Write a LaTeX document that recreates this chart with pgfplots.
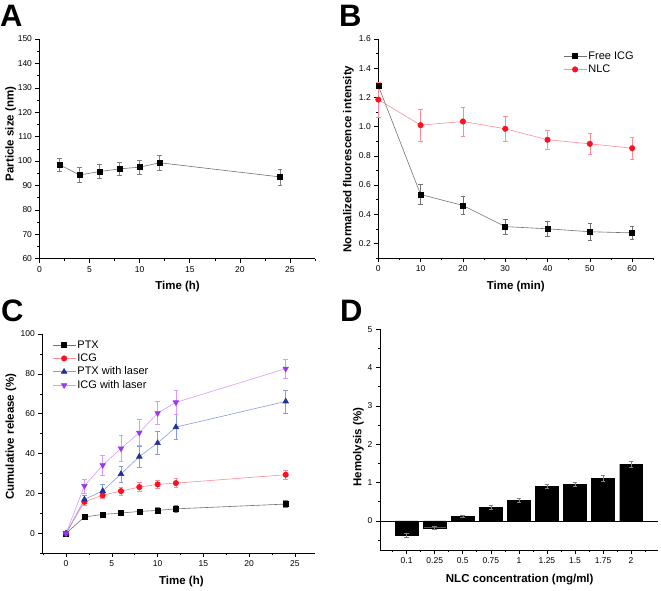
\documentclass[border=0pt]{standalone}
\usepackage{pgfplots}
\pgfplotsset{compat=1.18}
\usepackage{fontspec}
\setmainfont{Liberation Sans}
\definecolor{cred}{HTML}{FF1020}
\definecolor{cpink}{HTML}{FF8C9A}
\definecolor{cnavy}{HTML}{22309A}
\definecolor{cblue}{HTML}{8A9AE0}
\definecolor{cpurple}{HTML}{9C36F0}
\definecolor{clpurple}{HTML}{D69CFF}
\pgfplotsset{
  panel/.style={
    scale only axis, axis lines=left, axis line style={-, line width=0.8pt},
    tick align=outside, major tick length=4pt, minor tick length=2pt,
    tick style={black, line width=0.6pt},
    tick label style={font=\fontsize{8.5}{10}\selectfont},
    label style={font=\bfseries\fontsize{11.5}{13}\selectfont},
    /pgf/number format/assume math mode=true,
    clip=false,
    legend style={draw=none, fill=none, anchor=north west,
      font=\fontsize{11}{13}\selectfont, row sep=1pt, inner sep=0pt,
      nodes={inner sep=1.5pt}},
    legend cell align=left,
    legend image code/.code={\draw[mark repeat=2, mark phase=2] plot coordinates {(0pt,0pt) (11.5pt,0pt) (23pt,0pt)};},
  },
  ebar/.style={error bars/.cd, y dir=both, y explicit,
    error bar style={#1, line width=0.5pt},
    error mark options={rotate=90, #1, mark size=2.3pt, line width=0.5pt}},
}
\begin{document}
\begin{tikzpicture}
\path[use as bounding box] (0pt,0pt) rectangle (661pt,590pt);
% Panel letters
\node[anchor=base west, inner sep=0pt, font=\bfseries\fontsize{31}{31}\selectfont] at (0pt,563pt) {A};
\node[anchor=base west, inner sep=0pt, font=\bfseries\fontsize{31}{31}\selectfont] at (339pt,563pt) {B};
\node[anchor=base west, inner sep=0pt, font=\bfseries\fontsize{31}{31}\selectfont] at (1pt,268.3pt) {C};
\node[anchor=base west, inner sep=0pt, font=\bfseries\fontsize{31}{31}\selectfont] at (340pt,268.3pt) {D};

% ---------------- A ----------------
\begin{axis}[panel, at={(39.5pt,331.3pt)}, anchor=south west,
  width=275.5pt, height=219.7pt,
  xmin=0, xmax=27.5, ymin=60, ymax=150,
  xtick={0,5,...,25}, minor xtick={2.5,7.5,...,27.5},
  ytick={60,70,...,150}, minor ytick={65,75,...,145},
  xlabel={Time (h)}, ylabel={Particle size (nm)},
  xlabel style={at={(axis description cs:0.501,-0.127)}, anchor=center},
  ylabel style={at={(axis description cs:-0.1045,0.5676)}, anchor=center},
]
\addplot[color=gray!90!black, line width=0.6pt, mark=square*, mark size=2.5pt,
  mark options={black, solid}, ebar=gray]
coordinates {(2,98.5)+-(0,2.5) (4,94.3)+-(0,3.1) (6,95.7)+-(0,2.8) (8,96.8)+-(0,2.8)
 (10,97.5)+-(0,2.9) (12,99.3)+-(0,3.0) (24,93.5)+-(0,3.3)};
\end{axis}

% ---------------- B ----------------
\begin{axis}[panel, at={(378.3pt,332pt)}, anchor=south west,
  width=275pt, height=219pt,
  xmin=0, xmax=65, ymin=0.1, ymax=1.6,
  xtick={0,10,...,60}, minor xtick={5,15,...,65},
  ytick={0.2,0.4,0.6,0.8,1.0,1.2,1.4,1.6}, minor ytick={0.1,0.3,0.5,0.7,0.9,1.1,1.3,1.5},
  yticklabel style={/pgf/number format/.cd, fixed, fixed zerofill, precision=1},
  xlabel={Time (min)}, ylabel={Normalized fluorescence intensity},
  xlabel style={at={(axis description cs:0.5,-0.131)}, anchor=center},
  ylabel style={at={(axis description cs:-0.109,0.452)}, anchor=center},
  legend style={at={(axis description cs:0.672,0.95)}},
]
\addplot[color=gray!90!black, line width=0.6pt, mark=square*, mark size=2.5pt,
  mark options={black, solid}, ebar=gray!90!black]
coordinates {(0,1.28)+-(0,0.02) (10,0.535)+-(0,0.07) (20,0.46)+-(0,0.063) (30,0.315)+-(0,0.05)
 (40,0.30)+-(0,0.05) (50,0.28)+-(0,0.055) (60,0.272)+-(0,0.045)};
\addlegendentry{Free ICG}
\addplot[color=cpink, line width=0.6pt, mark=*, mark size=2.7pt,
  mark options={cred, fill=cred, solid}, ebar=cpink]
coordinates {(0,1.185)+-(0,0.12) (10,1.01)+-(0,0.11) (20,1.035)+-(0,0.1) (30,0.985)+-(0,0.085)
 (40,0.91)+-(0,0.065) (50,0.882)+-(0,0.073) (60,0.852)+-(0,0.073)};
\addlegendentry{NLC}
\end{axis}

% ---------------- C ----------------
\begin{axis}[panel, at={(42.3pt,36.7pt)}, anchor=south west,
  width=272.7pt, height=219.3pt,
  xmin=-2.6, xmax=27.2, ymin=-10, ymax=100,
  xtick={0,5,...,25}, minor xtick={-2.5,2.5,...,27.5},
  ytick={0,20,...,100}, minor ytick={-10,10,30,50,70,90},
  xlabel={Time (h)}, ylabel={Cumulative release (\%)},
  xlabel style={at={(axis description cs:0.51,-0.1295)}, anchor=center},
  ylabel style={at={(axis description cs:-0.1148,0.532)}, anchor=center},
  legend style={at={(axis description cs:0.036,0.977)}},
]
\addplot[color=gray!90!black, line width=0.6pt, mark=square*, mark size=2.5pt,
  mark options={black, solid}, ebar=gray]
coordinates {(0,0)+-(0,0.5) (2,8.2)+-(0,1.2) (4,9.5)+-(0,1.2) (6,10.2)+-(0,1.2) (8,11)+-(0,1.3)
 (10,11.5)+-(0,1.6) (12,12.3)+-(0,1.8) (24,14.7)+-(0,1.8)};
\addlegendentry{PTX}
\addplot[color=cpink, line width=0.6pt, mark=*, mark size=2.7pt,
  mark options={cred, fill=cred, solid}, ebar=cpink]
coordinates {(0,0)+-(0,0.5) (2,15.8)+-(0,1.5) (4,19.2)+-(0,1.8) (6,21.2)+-(0,2) (8,23.2)+-(0,2.2)
 (10,24.6)+-(0,2.2) (12,25.2)+-(0,2.3) (24,29.4)+-(0,2.2)};
\addlegendentry{ICG}
\addplot[color=cblue, line width=0.6pt, mark=triangle*, mark size=3.2pt,
  mark options={cnavy, fill=cnavy, solid}, ebar=cblue]
coordinates {(0,0)+-(0,0.5) (2,17)+-(0,2) (4,21.3)+-(0,3.4) (6,29.8)+-(0,4.1) (8,38.5)+-(0,5.4)
 (10,45.3)+-(0,5.7) (12,53.3)+-(0,6.2) (24,66.2)+-(0,5.8)};
\addlegendentry{PTX with laser}
\addplot[color=clpurple, line width=0.6pt, mark=triangle*, mark size=3.2pt,
  mark options={cpurple, fill=cpurple, solid, rotate=180}, ebar=clpurple]
coordinates {(0,0)+-(0,0.5) (2,23.8)+-(0,3.5) (4,34.2)+-(0,5.2) (6,42.6)+-(0,6.4) (8,50.5)+-(0,6.5)
 (10,60.3)+-(0,5.8) (12,65.7)+-(0,6.2) (24,82.6)+-(0,4.8)};
\addlegendentry{ICG with laser}
\end{axis}

% ---------------- D ----------------
\begin{axis}[panel, at={(380pt,39.7pt)}, anchor=south west,
  width=278.3pt, height=221pt,
  xmin=-0.95, xmax=8.97, ymin=-0.77, ymax=5,
  xtick={0,...,8}, xticklabels={0.1,0.25,0.5,0.75,1,1.25,1.5,1.75,2},
  minor xtick={-0.5,0.5,...,8.5},
  ytick={0,...,5}, minor ytick={-0.5,0.5,...,4.5},
  xlabel={NLC concentration (mg/ml)}, ylabel={Hemolysis (\%)},
  xlabel style={at={(axis description cs:0.502,-0.134)}, anchor=center},
  ylabel style={at={(axis description cs:-0.078,0.467)}, anchor=center},
]
\addplot[ybar, bar width=0.81, fill=black, draw=black, ebar=gray]
coordinates {(0,-0.37)+-(0,0.05) (1,-0.18)+-(0,0.03) (2,0.12)+-(0,0.03) (3,0.35)+-(0,0.05)
 (4,0.53)+-(0,0.05) (5,0.9)+-(0,0.05) (6,0.95)+-(0,0.06) (7,1.11)+-(0,0.07) (8,1.48)+-(0,0.08)};
\addplot[black, line width=0.6pt, forget plot] coordinates {(-0.95,0) (8.97,0)};
\end{axis}
\end{tikzpicture}
\end{document}
